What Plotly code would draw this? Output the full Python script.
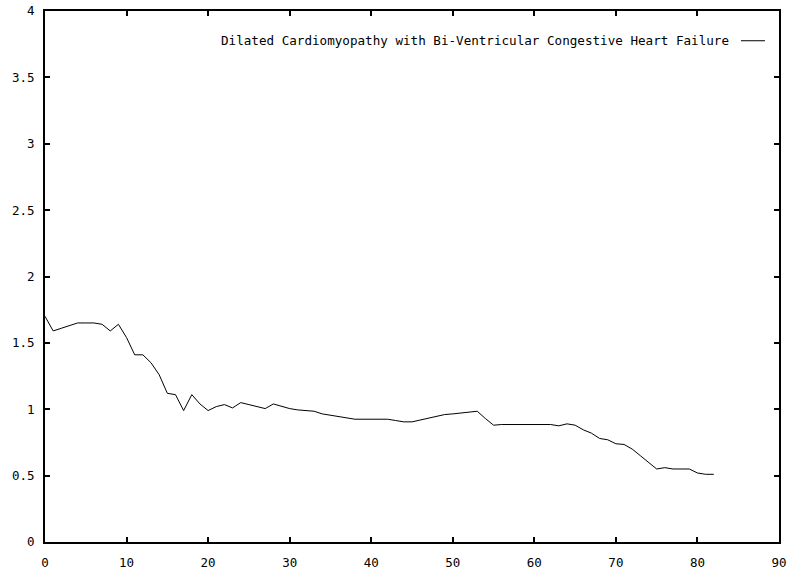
import plotly.graph_objects as go

# Ratio series sampled once per unit along the x axis
x_vals = list(range(0, 83))
ratio_vals = [
    1.70, 1.59, 1.61, 1.63, 1.65, 1.65, 1.65, 1.64, 1.59, 1.64,
    1.54, 1.41, 1.41, 1.35, 1.26, 1.12, 1.11, 0.99, 1.11, 1.04,
    0.99, 1.02, 1.035, 1.01, 1.05, 1.035, 1.02, 1.005, 1.04, 1.02,
    1.005, 0.995, 0.99, 0.985, 0.965, 0.955, 0.95, 0.94, 0.925, 0.925,
    0.925, 0.925, 0.925, 0.915, 0.905, 0.905, 0.92, 0.935, 0.95, 0.96,
    0.965, 0.97, 0.98, 0.985, 0.93, 0.88, 0.885, 0.885, 0.885, 0.885,
    0.885, 0.885, 0.885, 0.875, 0.89, 0.88, 0.845, 0.82, 0.78, 0.77,
    0.74, 0.735, 0.70, 0.65, 0.60, 0.55, 0.56, 0.55, 0.55, 0.55,
    0.52, 0.51, 0.51,
]
series_name = "Dilated Cardiomyopathy with Bi-Ventricular Congestive Heart Failure"

x_ticks = [0, 10, 20, 30, 40, 50, 60, 70, 80, 90]
y_ticks = [0, 0.5, 1, 1.5, 2, 2.5, 3, 3.5, 4]
y_tick_text = ["0", "0.5", "1", "1.5", "2", "2.5", "3", "3.5", "4"]

FONT = "DejaVu Sans Mono"

fig = go.Figure()
fig.add_trace(go.Scatter(
    x=x_vals, y=ratio_vals, mode="lines", name=series_name,
    line=dict(color="#000000", width=1), showlegend=False,
))

# Key in the top-right corner: label followed by a line sample
fig.add_annotation(
    xref="paper", yref="paper", x=0.9346, y=0.944,
    xanchor="right", yanchor="middle", showarrow=False,
    text=series_name, font=dict(family=FONT, size=12.6, color="#000"),
)
fig.add_shape(
    type="line", xref="paper", yref="paper",
    x0=0.9482, x1=0.9809, y0=0.944, y1=0.944,
    line=dict(color="#000", width=1),
)

axis_common = dict(
    showline=True, linecolor="#000", linewidth=2, mirror="ticks",
    ticks="inside", ticklen=5, tickwidth=2, tickcolor="#000",
    showgrid=False, zeroline=False, automargin=False,
    tickfont=dict(family=FONT, size=12.5, color="#000"),
)

fig.update_layout(
    width=788, height=577,
    margin=dict(l=45, r=9, t=11, b=35, autoexpand=False),
    paper_bgcolor="white", plot_bgcolor="white",
    xaxis=dict(range=[0, 90], tickvals=x_ticks, ticklabelstandoff=8, **axis_common),
    yaxis=dict(range=[0, 4], tickvals=y_ticks, ticktext=y_tick_text,
               ticklabelstandoff=6, **axis_common),
)

fig.write_html("out.html")
